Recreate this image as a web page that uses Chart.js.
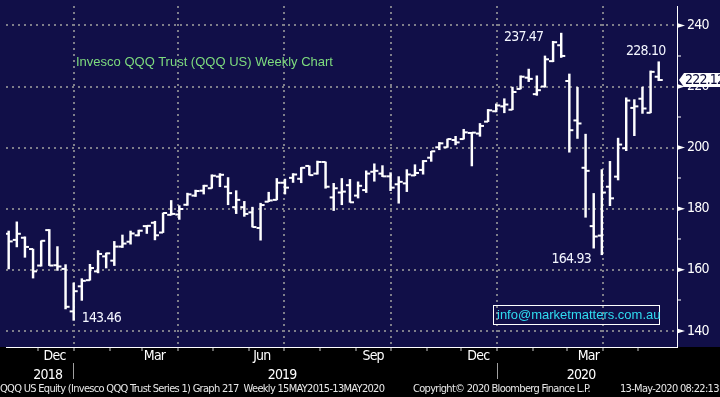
<!DOCTYPE html>
<html>
<head>
<meta charset="utf-8">
<script src="https://cdn.jsdelivr.net/npm/chart.js@4.4.1/dist/chart.umd.min.js"></script>
<style>
  html, body { margin: 0; padding: 0; background: #000; }
  #wrap { position: relative; width: 720px; height: 397px; overflow: hidden; }
  canvas { display: block; }
  .title { position: absolute; left: 76px; top: 54px; color: #7edc7e; font: 13px "Liberation Sans", Arial, sans-serif; line-height: 15px; white-space: nowrap; }
  .info { position: absolute; left: 493px; top: 305px; width: 167px; height: 20px; box-sizing: border-box; border: 1px solid #fff;
          color: #30dcf0; font: 13px "Liberation Sans", Arial, sans-serif; line-height: 18px; padding-left: 3px; white-space: nowrap; }
  .foot { position: absolute; top: 381px; color: #e8e8e8; font: 11px "DejaVu Sans Condensed", sans-serif; letter-spacing: -0.7px; line-height: 15px; white-space: nowrap; }
</style>
</head>
<body>
<div id="wrap">
  <canvas id="qqqChart" width="720" height="397"></canvas>
  <div class="title">Invesco QQQ Trust (QQQ US) Weekly Chart</div>
  <div class="info">info@marketmatters.com.au</div>
  <div class="foot" style="left:0px">QQQ US Equity (Invesco QQQ Trust Series 1) Graph 217&nbsp; Weekly 15MAY2015-13MAY2020</div>
  <div class="foot" style="left:413px">Copyright© 2020 Bloomberg Finance L.P.</div>
  <div class="foot" style="left:620px">13-May-2020 08:22:13</div>
</div>
<script>
// Weekly bars, first week = w/c 29 Oct 2018, last = w/c 11 May 2020
const open = [171.8, 169.8, 170.5, 166.8, 161.4, 173.0, 161.5, 160.3, 146.4, 154.6,
              156.6, 159.5, 164.4, 163.0, 167.6, 169.2, 171.3, 174.3, 175.4, 172.2,
              178.0, 178.1, 181.3, 184.3, 185.9, 186.7, 190.5, 187.2, 180.5, 180.5,
              178.8, 173.7, 182.3, 182.9, 188.5, 190.1, 189.8, 194.0, 191.5, 195.3,
              183.7, 185.3, 187.7, 184.3, 186.1, 192.1, 191.5, 190.6, 188.0, 188.3,
              190.9, 192.7, 196.7, 200.1, 200.1, 202.5, 202.8, 204.8, 204.6, 208.5,
              211.9, 213.5, 212.4, 219.2, 222.9, 217.5, 220.0, 228.3, 233.5, 221.8,
              208.9, 193.4, 174.3, 171.2, 187.2, 190.5, 199.8, 213.0, 216.0, 211.4,
              223.2];
const high = [172.7, 175.7, 170.8, 166.8, 169.5, 173.2, 167.6, 161.7, 155.7, 157.1,
              161.8, 166.3, 165.5, 169.3, 171.4, 172.7, 173.0, 174.5, 175.9, 178.6,
              182.7, 181.0, 185.1, 186.1, 187.7, 191.1, 191.5, 190.2, 185.9, 182.4,
              180.5, 181.8, 185.4, 189.9, 189.7, 191.5, 193.5, 194.0, 195.6, 195.3,
              188.3, 189.9, 189.6, 188.8, 192.4, 194.7, 194.1, 191.8, 190.5, 192.8,
              194.4, 195.8, 198.8, 201.7, 202.8, 203.7, 206.0, 205.0, 207.9, 212.5,
              214.3, 216.0, 219.8, 223.5, 225.7, 223.5, 230.0, 234.8, 237.47, 224.1,
              219.7, 204.4, 185.0, 192.8, 195.5, 203.1, 216.3, 215.7, 219.8, 225.1,
              228.10];
const low = [160.3, 167.5, 164.1, 157.3, 161.2, 161.4, 159.8, 147.2, 143.46, 150.0,
             156.6, 159.0, 160.6, 161.4, 167.3, 168.4, 171.1, 171.9, 169.8, 172.2,
             177.9, 176.5, 181.1, 184.0, 184.8, 186.7, 187.2, 181.3, 178.4, 177.5,
             174.0, 169.7, 182.3, 182.9, 184.8, 188.6, 188.5, 191.0, 191.3, 186.7,
             179.4, 181.3, 182.1, 183.5, 185.3, 189.0, 190.5, 185.9, 181.8, 185.6,
             190.8, 191.3, 195.5, 199.3, 200.1, 200.9, 202.8, 194.0, 203.7, 208.5,
             211.7, 211.4, 212.4, 219.2, 221.6, 217.1, 219.8, 228.1, 229.5, 198.5,
             203.0, 177.2, 167.1, 164.93, 181.0, 189.4, 199.0, 203.9, 211.2, 211.4,
             221.9];
const close = [169.3, 171.8, 167.5, 159.5, 169.5, 161.4, 161.1, 147.9, 153.0, 156.4,
               160.6, 165.2, 165.4, 167.6, 168.6, 171.9, 172.8, 174.4, 171.3, 178.6,
               178.3, 179.9, 184.7, 185.8, 187.5, 190.8, 191.1, 185.1, 182.9, 178.3,
               174.0, 181.2, 182.7, 188.5, 186.9, 191.2, 193.4, 191.0, 195.3, 187.2,
               186.7, 185.6, 182.1, 187.5, 191.5, 192.4, 190.6, 186.9, 188.8, 191.2,
               191.7, 195.6, 198.8, 201.4, 202.8, 201.7, 205.0, 204.9, 207.1, 212.2,
               213.8, 214.1, 218.2, 223.2, 222.5, 218.8, 228.9, 234.5, 230.0, 205.7,
               207.9, 192.4, 170.9, 185.3, 183.4, 201.0, 215.4, 213.5, 212.8, 224.8,
               222.12];

// axis labels (positions in weeks from the first bar)
const priceTicks = [140, 150, 160, 170, 180, 190, 200, 210, 220, 230, 240];
const monthLabels = ['Dec', 'Mar', 'Jun', 'Sep', 'Dec', 'Mar'];
const monthLabelAt = [5.65, 17.95, 31.15, 44.85, 57.8, 71.35];
const yearLabels = ['2018', '2019', '2020'];
const yearLabelAt = [4.8, 33.65, 70.45];

const NAVY = '#110f48';
const GRID = '#7e7e8a';
const LABEL_FONT = { family: '"DejaVu Sans Condensed", "Liberation Sans", sans-serif', size: 14 };

// week 0 sits at this date on the axis
const DAY = 86400000;
const refDate = Date.UTC(2018, 10, 6);
const weekPos = (y, m, d) => (Date.UTC(y, m, d) - refDate) / (7 * DAY);

const monthStarts = [];
for (let k = 0; k < 18; k++) {
    const y = 2018 + Math.floor((11 + k) / 12), m = (11 + k) % 12;
    monthStarts.push({ value: weekPos(y, m, 1), kind: m % 3 === 0 ? 'q' : 'm' });
}
const yearSeps = [weekPos(2019, 0, 1), weekPos(2020, 0, 1)];

const idx = close.map((_, i) => i);
const X_MIN = -0.33, X_MAX = 82.25;

// no edge padding: the plot runs to the canvas edges like the terminal chart
function noPad(axis) {
    axis.paddingLeft = 0;
    axis.paddingRight = 0;
    axis.paddingTop = 0;
    axis.paddingBottom = 0;
}

// background, axis arrows, price flag and callouts
const decor = {
    id: 'decor',
    beforeDraw(chart) {
        const { ctx, chartArea, width, height } = chart;
        ctx.letterSpacing = '-0.8px';
        ctx.save();
        ctx.fillStyle = '#000';
        ctx.fillRect(0, 0, width, height);
        ctx.fillStyle = NAVY;
        ctx.fillRect(0, 0, width, chartArea.bottom);
        ctx.restore();
    },
    afterDraw(chart) {
        const { ctx, chartArea } = chart;
        const xs = chart.scales.x, ys = chart.scales.y;
        const fnt = LABEL_FONT.size + 'px ' + LABEL_FONT.family;
        ctx.save();
        // arrows on the major price ticks
        ctx.fillStyle = '#fff';
        priceTicks.filter(v => v % 20 === 0).forEach(v => {
            const y = ys.getPixelForValue(v);
            ctx.beginPath();
            ctx.moveTo(chartArea.right, y - 2.5);
            ctx.lineTo(chartArea.right + 8, y);
            ctx.lineTo(chartArea.right, y + 2.5);
            ctx.closePath();
            ctx.fill();
        });

        // callouts
        ctx.font = fnt;
        ctx.textBaseline = 'middle';
        ctx.fillStyle = '#f4f6ff';
        const callouts = [
            { i: 68, v: high[68], align: 'right', dx: -18, dy: 4 },
            { i: 80, v: high[80], align: 'center', dx: -13, dy: -10 },
            { i: 73, v: low[73], align: 'right', dx: -11, dy: 5 },
            { i: 8, v: low[8], align: 'left', dx: 8, dy: -2 }
        ];
        callouts.forEach(c => {
            ctx.textAlign = c.align;
            ctx.fillText(c.v.toFixed(2), xs.getPixelForValue(c.i) + c.dx, ys.getPixelForValue(c.v) + c.dy);
        });

        // last price flag
        const last = close[close.length - 1];
        const py = ys.getPixelForValue(last);
        const x0 = chartArea.right + 2;
        ctx.fillStyle = '#fff';
        ctx.beginPath();
        ctx.moveTo(x0, py);
        ctx.lineTo(x0 + 5, py - 7);
        ctx.lineTo(chart.width, py - 7);
        ctx.lineTo(chart.width, py + 7);
        ctx.lineTo(x0 + 5, py + 7);
        ctx.closePath();
        ctx.fill();
        ctx.fillStyle = '#0a0a3a';
        ctx.textAlign = 'left';
        ctx.fillText(last.toFixed(2), x0 + 6, py + 0.5);
        ctx.restore();
    }
};

function initChart() {
    const ctx = document.getElementById('qqqChart').getContext('2d');
    const tickPoint = {
        type: 'line',
        showLine: false,
        pointStyle: 'line',
        pointRadius: 2,
        pointBorderWidth: 2,
        borderColor: '#fff',
        backgroundColor: '#fff',
        xAxisID: 'x',
        yAxisID: 'y'
    };

    new Chart(ctx, {
        type: 'bar',
        data: {
            datasets: [
                {
                    label: 'High-Low',
                    data: idx.map(i => ({ x: i, y: [low[i], high[i]] })),
                    backgroundColor: '#fff',
                    borderWidth: 0,
                    barThickness: 1.8,
                    xAxisID: 'x',
                    yAxisID: 'y'
                },
                Object.assign({ label: 'Open', data: idx.map(i => ({ x: i - 0.25, y: open[i] })) }, tickPoint),
                Object.assign({ label: 'Close', data: idx.map(i => ({ x: i + 0.25, y: close[i] })) }, tickPoint)
            ]
        },
        options: {
            responsive: false,
            animation: false,
            events: [],
            layout: { padding: { left: 0, right: 0, top: 0, bottom: 14 } },
            plugins: { legend: { display: false }, tooltip: { enabled: false } },
            scales: {
                x: {
                    type: 'linear',
                    position: 'bottom',
                    min: X_MIN,
                    max: X_MAX,
                    offset: false,
                    afterBuildTicks: axis => {
                        axis.ticks = monthStarts.map(t => ({ value: t.value, kind: t.kind }))
                            .concat(monthLabelAt.map((v, k) => ({ value: v, kind: 'l', text: monthLabels[k] })));
                    },
                    afterFit: axis => { axis.height = 16; noPad(axis); },
                    ticks: {
                        autoSkip: false,
                        maxRotation: 0,
                        padding: -3,
                        color: '#fff',
                        font: LABEL_FONT,
                        callback: (v, i, ticks) => ticks[i].text || ''
                    },
                    grid: {
                        offset: false,
                        lineWidth: 2,
                        color: c => (c.tick && c.tick.kind === 'q') ? GRID : 'transparent',
                        tickColor: c => (c.tick && c.tick.kind !== 'l') ? '#c8c8c8' : 'transparent',
                        tickLength: 4,
                        tickWidth: 1
                    },
                    border: { color: '#fff', width: 1, dash: [2, 4] }
                },
                xYear: {
                    type: 'linear',
                    position: 'bottom',
                    min: X_MIN,
                    max: X_MAX,
                    offset: false,
                    afterBuildTicks: axis => {
                        axis.ticks = yearSeps.map(v => ({ value: v, kind: 'sep' }))
                            .concat(yearLabelAt.map((v, k) => ({ value: v, kind: 'l', text: yearLabels[k] })));
                    },
                    afterFit: axis => { axis.height = 20; noPad(axis); },
                    ticks: {
                        autoSkip: false,
                        maxRotation: 0,
                        padding: -12,
                        color: '#fff',
                        font: LABEL_FONT,
                        callback: (v, i, ticks) => ticks[i].text || ''
                    },
                    grid: {
                        offset: false,
                        drawOnChartArea: false,
                        tickColor: c => (c.tick && c.tick.kind === 'sep') ? '#a0a0a0' : 'transparent',
                        tickLength: 16,
                        tickWidth: 1
                    },
                    border: { display: false }
                },
                y: {
                    type: 'linear',
                    position: 'right',
                    min: 134.74,
                    max: 246.35,
                    afterBuildTicks: axis => { axis.ticks = priceTicks.map(v => ({ value: v })); },
                    afterFit: axis => { axis.width = 43; noPad(axis); },
                    ticks: {
                        padding: 6,
                        color: '#fff',
                        font: LABEL_FONT,
                        callback: v => (v % 20 === 0 ? String(v) : '')
                    },
                    grid: {
                        lineWidth: 2,
                        color: c => (c.tick && c.tick.value % 20 === 0) ? GRID : 'transparent',
                        tickColor: c => (c.tick && c.tick.value % 20 !== 0) ? '#fff' : 'transparent',
                        tickLength: 4,
                        tickWidth: 1
                    },
                    border: { color: '#fff', width: 1, dash: [2, 4] }
                }
            }
        },
        plugins: [decor]
    });
}

document.addEventListener('DOMContentLoaded', initChart);
</script>
</body>
</html>
